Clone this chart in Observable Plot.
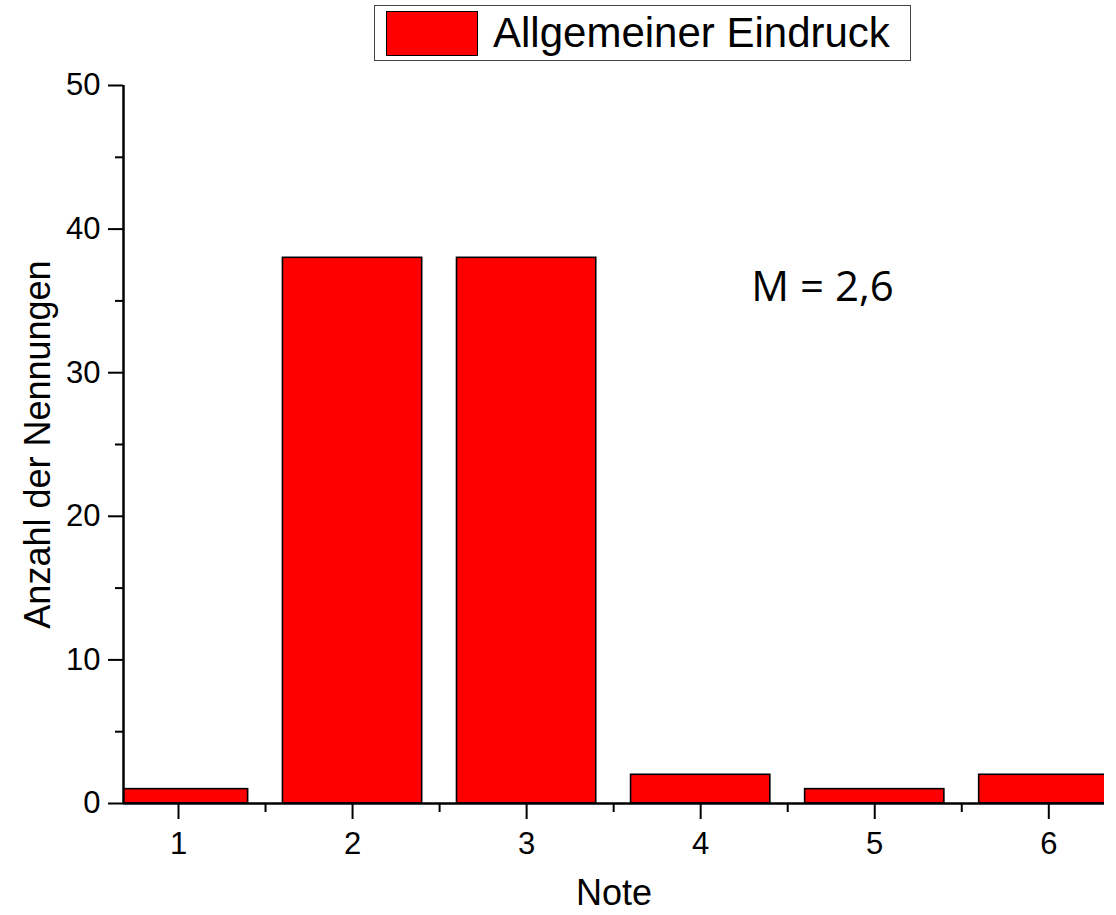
<!DOCTYPE html>
<html><head><meta charset="utf-8">
<script src="https://cdn.jsdelivr.net/npm/d3@7"></script>
<script src="https://cdn.jsdelivr.net/npm/@observablehq/plot@0.6"></script>
<style>
body{margin:0;background:#fff;font-family:"Liberation Sans",Arial,sans-serif;color:#000;}
#legend{position:relative;width:1116px;height:70px;}
#legend .box{position:absolute;left:374px;top:5px;width:535px;height:54px;border:1px solid #444;}
#legend .sw{position:absolute;left:11px;top:5px;width:90px;height:43px;background:#ff0000;border:1.5px solid #000;}
#legend .lab{position:absolute;left:118px;top:2px;font-size:42px;line-height:50px;white-space:nowrap;}
</style></head><body>
<div id="legend"><div class="box"><div class="sw"></div><div class="lab" id="legtext"></div></div></div>
<div id="chart"></div>
<script>
const notes = [1, 2, 3, 4, 5, 6];
const counts = [1, 38, 38, 2, 1, 2];
const yTicks = [0, 10, 20, 30, 40, 50];
const yMinor = [5, 15, 25, 35, 45];
const xMinor = [1.5, 2.5, 3.5, 4.5, 5.5];
const seriesName = "Allgemeiner Eindruck";
const xLabel = "Note";
const yLabel = "Anzahl der Nennungen";
const meanLabel = "M = 2,6";

document.getElementById("legtext").textContent = seriesName;

const data = notes.map((n, i) => ({note: n, count: counts[i]}));
const xDomain = [0.684, 6.32];
const barW = 0.8;

const chart = Plot.plot({
  width: 1116,
  height: 845,
  marginLeft: 123,
  marginRight: 12,
  marginTop: 15,
  marginBottom: 112,
  style: {fontFamily: "Liberation Sans, Arial, sans-serif", fontSize: "30px", color: "#000", background: "#fff", overflow: "visible"},
  x: {domain: xDomain},
  y: {domain: [0, 50]},
  marks: [
    Plot.rectY(data, {x1: d => d.note - barW / 2, x2: d => d.note + barW / 2, y: "count", fill: "#ff0000", stroke: "#000", strokeWidth: 1.6, clip: true}),
    Plot.axisX({ticks: notes, tickSize: 16, tickPadding: 12, fontSize: 31, strokeWidth: 2, label: null, tickFormat: d => String(d)}),
    Plot.axisX({ticks: xMinor, tickSize: 9, strokeWidth: 2, label: null, tickFormat: () => ""}),
    Plot.axisY({ticks: yTicks, tickSize: 15, tickPadding: 8, fontSize: 31, strokeWidth: 2, label: null, tickFormat: d => String(d)}),
    Plot.axisY({ticks: yMinor, tickSize: 8, strokeWidth: 2, label: null, tickFormat: () => ""}),
    Plot.ruleY([0], {stroke: "#000", strokeWidth: 2.5}),
    Plot.ruleX([xDomain[0]], {y1: 0, y2: 50, stroke: "#000", strokeWidth: 2.5}),
    Plot.text([meanLabel], {x: 4.7, y: 35.9, text: d => d, fontSize: 42, fontFamily: "Open Sans", textAnchor: "middle", lineAnchor: "middle"}),
    Plot.text([yLabel], {frameAnchor: "left", text: d => d, rotate: -90, dx: -85, fontSize: 36, textAnchor: "middle", lineAnchor: "middle"}),
    Plot.text([xLabel], {frameAnchor: "bottom", text: d => d, dy: 90, fontSize: 36, textAnchor: "middle", lineAnchor: "middle"})
  ]
});
document.getElementById("chart").appendChild(chart);
</script>
</body></html>
